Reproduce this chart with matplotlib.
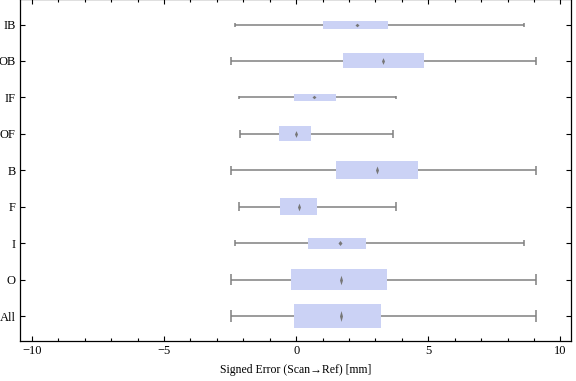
import matplotlib

matplotlib.use("Agg")
import matplotlib.pyplot as plt  # noqa: E402
from matplotlib.ticker import MultipleLocator  # noqa: E402

# one row per group, bottom to top
groups = ["All", "O", "I", "F", "B", "OF", "IF", "OB", "IB"]
whisker_low = [-2.45, -2.45, -2.30, -2.18, -2.45, -2.11, -2.18, -2.45, -2.30]
q1 = [-0.09, -0.19, 0.45, -0.61, 1.51, -0.64, -0.08, 1.78, 1.02]
median = [1.69, 1.70, 1.65, 0.11, 3.06, 0.00, 0.66, 3.28, 2.31]
q3 = [3.22, 3.43, 2.64, 0.79, 4.62, 0.57, 1.51, 4.83, 3.48]
whisker_high = [9.09, 9.09, 8.64, 3.76, 9.09, 3.66, 3.76, 9.09, 8.64]
box_width = [0.66, 0.58, 0.30, 0.47, 0.49, 0.41, 0.19, 0.41, 0.22]

box_color = "#cbd2f5"
line_color = "#808080"

plt.rcParams["font.family"] = ["Liberation Serif", "DejaVu Serif"]
plt.rcParams["font.size"] = 8.5

fig = plt.figure(figsize=(5.76, 3.81), dpi=100)
# top edge sits just outside the canvas, as in the reference
ax = fig.add_axes([20 / 576, 40 / 381, 551 / 576, 342 / 381])

px_per_unit = 36.5  # vertical pixels per category step
for pos, name in enumerate(groups):
    w = box_width[pos]
    ax.hlines(pos, whisker_low[pos], whisker_high[pos], color=line_color, lw=1.1, zorder=1)
    ax.vlines([whisker_low[pos], whisker_high[pos]], pos - w / 4, pos + w / 4,
              color=line_color, lw=1.1, zorder=1)
    ax.barh(pos, q3[pos] - q1[pos], left=q1[pos], height=w, color=box_color,
            edgecolor="none", zorder=2)
    h_px = max(3.5, 0.45 * w * px_per_unit)
    w_px = 4.0 if h_px < 6 else 3.0
    ratio = (w_px / 2) / (h_px / 2)
    if ratio <= 1:
        verts = [(0, 1), (ratio, 0), (0, -1), (-ratio, 0), (0, 1)]
        size = h_px * 0.72
    else:
        verts = [(0, 1 / ratio), (1, 0), (0, -1 / ratio), (-1, 0), (0, 1 / ratio)]
        size = w_px * 0.72
    ax.plot(median[pos], pos, marker=verts, markersize=size, color="#777777",
            markeredgewidth=0, zorder=3)

ax.set_xlim(-10.45, 10.4)
ax.set_ylim(-0.685, 8.70)
ax.set_yticks(range(len(groups)))
ax.set_yticklabels(groups)
ax.set_xticks([-10, -5, 0, 5, 10])
ax.xaxis.set_minor_locator(MultipleLocator(1))
ax.tick_params(axis="x", which="major", direction="in", length=3.8, width=0.8,
               top=True, pad=3, labelsize=9)
ax.tick_params(axis="x", which="minor", direction="in", length=2.2, width=0.8, top=True)
ax.tick_params(axis="y", which="major", direction="in", length=3.6, width=0.8,
               right=True, pad=3, labelsize=9)
for spine in ax.spines.values():
    spine.set_linewidth(0.9)

ax.set_xlabel("Signed Error (Scan\u2192Ref) [mm]", labelpad=5)

fig.savefig("out.png", dpi=100)
